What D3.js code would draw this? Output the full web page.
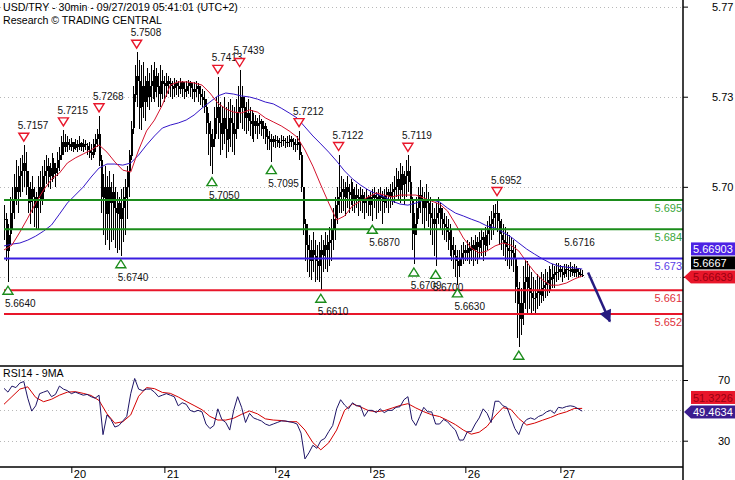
<!DOCTYPE html>
<html><head><meta charset="utf-8">
<script src="https://cdn.jsdelivr.net/npm/d3@7"></script>
<style>
body{margin:0;background:#fff}
svg{display:block}
text{font-family:"Liberation Sans",Arial,sans-serif}
</style>
</head><body>
<svg id="chart" width="735" height="480"></svg>
<script>
// ---------- DATA ----------
const titleText = "USD/TRY - 30min - 09/27/2019 05:41:01 (UTC+2)";
const subtitleText = "Research \u00A9 TRADING CENTRAL";
const rsiTitle = "RSI14 - 9MA";

// 30-min bars, values in pips (0.0001) above 5.6000
const PRICE_BASE = 5.6, PIP = 0.0001;
const barHigh = [
930,900,860,960,1000,1050,1100,1080,1110,1120,
1157,1130,1060,1020,1040,1000,980,1040,1060,1080,
1100,1120,1110,1090,1128,1110,1090,1130,1150,1190,
1215,1200,1190,1180,1185,1170,1180,1175,1190,1170,
1180,1175,1165,1170,1160,1180,1200,1220,1268,1120,
1050,1080,1040,1060,1020,1050,1000,980,960,990,
1000,1030,1080,1140,1250,1380,1460,1508,1480,1460,
1470,1420,1450,1430,1460,1440,1470,1450,1430,1460,
1440,1420,1430,1420,1410,1400,1410,1405,1400,1410,
1400,1395,1400,1405,1400,1390,1395,1400,1390,1380,
1370,1360,1330,1280,1250,1220,1300,1340,1413,1320,
1300,1340,1300,1320,1330,1310,1300,1330,1380,1439,
1380,1340,1320,1330,1300,1290,1280,1270,1260,1270,
1255,1250,1240,1220,1210,1200,1190,1195,1190,1185,
1195,1190,1185,1190,1195,1190,1185,1180,1190,1212,
1130,1000,880,860,820,800,830,800,780,790,
820,800,830,820,850,880,920,960,1000,1122,
1040,1030,1020,1040,1010,1030,1020,1000,1010,990,
1000,990,980,990,970,980,990,1000,980,990,
1000,985,990,1000,990,1010,1020,1040,1070,1060,
1090,1080,1060,1100,1119,1080,960,900,960,1000,
1026,1000,980,1010,980,960,940,920,940,960,
940,920,900,890,880,860,840,810,780,760,
760,780,790,780,800,790,810,800,820,810,
830,840,830,850,870,890,910,930,935,952,
900,880,860,850,830,820,810,800,780,700,
640,620,700,723,720,700,680,660,650,670,
660,680,670,690,680,700,690,710,700,712,
712,705,700,710,710,705,716,700,708,700,
695,690,685];
const barLow = [
800,720,640,780,840,880,930,900,960,980,
1000,970,900,860,900,850,840,840,900,930,
980,1010,1000,990,1020,1030,1000,1040,1060,1100,
1120,1130,1130,1140,1135,1130,1140,1130,1140,1135,
1130,1140,1120,1110,1100,1110,1130,1150,1080,900,
820,780,800,760,790,800,770,750,760,740,
790,820,880,960,1100,1200,1320,1300,1220,1214,
1260,1250,1300,1290,1320,1330,1320,1340,1300,1300,
1330,1320,1340,1350,1340,1330,1340,1345,1340,1350,
1340,1330,1340,1350,1340,1330,1320,1340,1320,1310,
1300,1280,1200,1120,1080,1050,1150,1200,1180,1120,
1140,1160,1110,1130,1150,1130,1120,1180,1220,1240,
1220,1210,1200,1210,1190,1180,1170,1200,1180,1200,
1190,1180,1160,1140,1140,1095,1150,1145,1150,1145,
1150,1155,1145,1150,1150,1150,1140,1130,1140,1100,
980,820,720,680,660,650,680,640,650,640,
610,680,690,680,700,720,760,800,860,900,
900,910,890,920,900,930,910,900,920,890,
910,900,880,900,890,890,870,920,880,900,
910,860,900,920,900,920,930,940,960,950,
940,960,930,960,980,900,760,709,820,880,
900,860,840,870,850,820,780,740,700,860,
840,820,800,790,760,740,720,690,660,630,
660,700,710,720,720,710,720,700,720,710,
730,740,720,740,760,780,800,820,840,830,
780,760,740,720,700,690,700,680,560,430,
395,440,480,540,520,540,520,530,520,540,
550,560,570,580,590,600,610,620,620,640,
650,660,640,655,660,650,660,665,660,660,
655,660,660];
const barClose = [
880,760,820,900,950,1000,980,1040,1060,1090,
1060,1000,940,990,960,920,960,1000,950,1040,
1060,1080,1040,1070,1090,1050,1070,1100,1120,1170,
1150,1170,1160,1150,1170,1145,1160,1150,1165,1150,
1160,1155,1140,1130,1120,1160,1180,1200,1100,960,
1000,900,1000,940,980,920,900,940,880,920,
960,1000,1060,1120,1220,1350,1420,1400,1300,1380,
1320,1400,1340,1380,1400,1360,1420,1380,1350,1400,
1390,1380,1400,1390,1380,1370,1390,1380,1370,1395,
1370,1360,1380,1390,1370,1360,1370,1380,1350,1340,
1330,1300,1240,1200,1150,1180,1260,1300,1240,1200,
1260,1220,1180,1260,1240,1200,1220,1280,1300,1340,
1300,1260,1280,1250,1240,1230,1250,1230,1240,1250,
1220,1230,1190,1180,1170,1180,1170,1175,1165,1170,
1175,1170,1165,1170,1180,1170,1160,1160,1170,1120,
1000,860,780,760,720,760,740,720,700,760,
740,780,760,790,800,840,880,930,960,980,
990,960,1000,980,970,990,950,970,960,950,
970,940,950,960,930,960,970,960,950,970,
960,940,970,980,960,980,990,1000,1030,990,
1050,1010,1040,1060,1020,950,820,860,920,970,
950,920,950,940,900,880,860,880,900,920,
880,860,850,830,800,780,760,740,720,700,
730,750,760,750,770,760,780,760,790,770,
800,810,780,820,840,860,880,900,900,870,
820,800,790,770,760,760,750,730,620,560,
500,560,640,660,620,600,580,580,600,610,
590,620,630,640,650,660,650,670,680,680,
690,680,670,690,685,680,690,675,690,680,
670,668,667];

// moving averages on price, one value every 4 bars
const MA_STEP = 4;
const maFast = [5.6762,5.6780,5.6829,5.6882,5.6939,5.6988,5.7029,5.7052,5.7090,5.7109,
5.7124,5.7139,5.7158,5.7131,5.7094,5.7063,5.7056,5.7139,5.7211,5.7252,
5.7309,5.7384,5.7396,5.7396,5.7392,5.7384,5.7354,5.7316,5.7294,5.7282,
5.7279,5.7290,5.7282,5.7260,5.7245,5.7230,5.7211,5.7188,5.7139,5.7078,
5.7007,5.6939,5.6875,5.6890,5.6928,5.6946,5.6962,5.6977,5.6969,5.6962,
5.6969,5.6969,5.6969,5.6958,5.6946,5.6935,5.6909,5.6860,5.6807,5.6769,
5.6750,5.6758,5.6777,5.6788,5.6780,5.6758,5.6716,5.6678,5.6648,5.6629,
5.6629,5.6637,5.6652,5.6664];
const maSlow = [5.6777,5.6784,5.6788,5.6799,5.6814,5.6833,5.6856,5.6897,5.6939,5.6969,
5.6999,5.7037,5.7071,5.7086,5.7086,5.7082,5.7090,5.7120,5.7158,5.7192,
5.7222,5.7233,5.7241,5.7252,5.7271,5.7297,5.7320,5.7343,5.7354,5.7350,
5.7343,5.7339,5.7331,5.7320,5.7313,5.7297,5.7279,5.7260,5.7226,5.7192,
5.7162,5.7131,5.7097,5.7060,5.7030,5.7007,5.6988,5.6973,5.6962,5.6946,
5.6935,5.6931,5.6939,5.6950,5.6950,5.6943,5.6920,5.6901,5.6890,5.6878,
5.6867,5.6852,5.6845,5.6829,5.6811,5.6788,5.6765,5.6746,5.6728,5.6712,
5.6701,5.6697,5.6694,5.6690];

// RSI14 (one value every 2 bars) and its 9MA (one value every 4 bars)
const RSI_STEP = 2, RSI_MA_STEP = 4;
const rsi = [64.5,62,66,65,68,69,58,49.5,53,61,
62,63,59,60.5,66,64,63,61,62,61,
60,60.5,59,58,60,34,47,44,39,40,
43,46,61,71,64,63,64,64,62,59,
60,61,60,59,53,55,54,50,49,50,
49,41,38,40,51,44,42,37,50,59,
52,42,48,45,44,43,41,40,41,42,
43,43,42.5,42,41,35,18,22,27,25,
30,31.5,36,40,51,57,53.5,51,55,53,
53,46,50,50,48.5,51,48.5,50,50,52,
52.4,57,59,44,40,46,52,49,49,41,
41,44,42.5,39.5,37,30.4,30.4,35.9,36,41,
45,51,48,42,56,56,53,52,45,38,
34,41,44,45,44,46,47,49,50,48,
52,51.5,52.5,53,52.5,51,49.5];
const rsiMA = [54,59,64,65.5,58.5,55.7,57.3,60,62,62.3,
61.2,59.8,56.5,47.8,41.5,42.5,47,59.3,65,64.3,
61.8,61.2,58.8,55.9,53.2,50.4,46,43.6,43.6,44.8,
47.4,49.6,47.7,44.4,43.6,43.3,42.5,42.5,37,28.7,
24,28.6,37,50,54.3,52.3,49.9,49.1,49.8,51.5,
53.2,54.4,51.6,49.1,47.1,45.9,43.4,40.6,37,34.3,
35.6,39.5,46.3,51.8,50.6,44.6,40.3,41.6,43.5,45.3,
47.5,49,51.2,51.3];

// axes
const dayLabels = ["20","21","24","25","26","27"];
const dayBarIndex = [34,81,137,185,233,281];
const priceGrid = [5.768,5.734,5.700,5.666];
const priceGridLabels = ["5.77","5.73","5.70",""];
const rsiGrid = [70,50,30];
const rsiGridLabels = ["70","","30"];

// support / resistance levels
const levelValues = [5.695,5.684,5.673,5.661,5.652];
const levelLabels = ["5.695","5.684","5.673","5.661","5.652"];
const levelKinds = ["res","res","pivot","sup","sup"];

// swing highs / lows (bar index, value)
const swingHighIdx = [10,30,48,67,108,119,149,169,204,249,286];
const swingHighVal = [5.7157,5.7215,5.7268,5.7508,5.7413,5.7439,5.7212,5.7122,5.7119,5.6952,5.6716];
const swingHighMarker = [1,1,1,1,1,1,1,1,1,1,0];
const swingLowIdx = [2,59,105,135,160,186,207,218,229,260];
const swingLowVal = [5.6640,5.6740,5.7050,5.7095,5.6610,5.6870,5.6709,5.6700,5.6630,5.6395];
const swingLowLabelShown = [1,1,1,1,1,1,1,1,1,0];

// forecast arrow (bar index, price)
const arrowFrom = [295, 5.6677];
const arrowTo = [306, 5.6492];

// last-value tags
const priceTagValues = [5.66639, 5.6667, 5.66903];
const priceTagLabels = ["5.66639","5.6667","5.66903"];
const rsiTagValues = [49.4634, 51.3226];
const rsiTagLabels = ["49.4634","51.3226"];

// ---------- STYLE ----------
const C = {
  green:"#1b8c1b", greenText:"#3aa63a", blue:"#3a1ee0", blueText:"#5a3ee6",
  red:"#e8162a", redText:"#e0303c", maFast:"#d4142e", maSlow:"#3416c8",
  rsi:"#1e1466", rsiMA:"#d40000", grid:"#b8b8b8", arrow:"#261a80"
};
const levelColor = {res:C.green, pivot:C.blue, sup:C.red};
const levelTextColor = {res:C.greenText, pivot:C.blueText, sup:C.redText};

const W = 735, H = 480, AX = 683, MAIN_B = 366, RSI_B = 467;

const svg = d3.select("#chart");
const defs = svg.append("defs");
defs.append("clipPath").attr("id","clipMain").append("rect").attr("x",0).attr("y",0).attr("width",AX).attr("height",MAIN_B);
defs.append("clipPath").attr("id","clipRsi").append("rect").attr("x",0).attr("y",MAIN_B).attr("width",AX).attr("height",RSI_B-MAIN_B);
defs.append("marker").attr("id","ah").attr("viewBox","0 0 10 10").attr("refX",9).attr("refY",5)
  .attr("markerWidth",5.5).attr("markerHeight",5).attr("markerUnits","strokeWidth").attr("orient","auto")
  .append("path").attr("d","M0,0L10,5L0,10Z").attr("fill",C.arrow);

// scales
const x = d3.scaleLinear().domain([0,300]).range([4, 4+1.98*300]);
const y = d3.scaleLinear().domain([5.6324,5.7705]).range([MAIN_B,0]);
const yR = d3.scaleLinear().domain([30,70]).range([440.7,380]);
const pv = p => PRICE_BASE + p*PIP;

const bars = barClose.map((c,i)=>({i, h:pv(barHigh[i]), l:pv(barLow[i]), c:pv(c), o:pv(i? barClose[i-1]: barClose[0])}));

// ---------- MAIN PANEL ----------
const main = svg.append("g").attr("clip-path","url(#clipMain)");
main.selectAll("line.grid").data(priceGrid).join("line").attr("class","grid")
  .attr("x1",0).attr("x2",AX).attr("y1",d=>Math.round(y(d))+0.5).attr("y2",d=>Math.round(y(d))+0.5)
  .attr("stroke",C.grid).attr("stroke-dasharray","1,3");

const bg = main.append("g").attr("shape-rendering","crispEdges");
bg.selectAll("line").data(bars).join("line")
  .attr("x1",d=>Math.round(x(d.i))+0.5).attr("x2",d=>Math.round(x(d.i))+0.5)
  .attr("y1",d=>Math.round(y(d.h))).attr("y2",d=>Math.round(y(d.l)))
  .attr("stroke","#000").attr("stroke-width",1);
bg.selectAll("rect").data(bars).join("rect")
  .attr("x",d=>Math.round(x(d.i))-0.5).attr("width",2)
  .attr("y",d=>Math.round(y(Math.max(d.o,d.c)))).attr("height",d=>Math.max(1,Math.round(Math.abs(y(d.o)-y(d.c)))))
  .attr("fill","#000");

const maLine = step => d3.line().x((d,k)=>x(k*step)).y(d=>y(d));
main.append("path").attr("d",maLine(MA_STEP)(maSlow)).attr("fill","none").attr("stroke",C.maSlow).attr("stroke-width",1);
main.append("path").attr("d",maLine(MA_STEP)(maFast)).attr("fill","none").attr("stroke",C.maFast).attr("stroke-width",1);

// levels
levelValues.forEach((v,k)=>{
  main.append("line").attr("x1",4).attr("x2",AX).attr("y1",y(v)).attr("y2",y(v))
    .attr("stroke",levelColor[levelKinds[k]]).attr("stroke-width",2);
  main.append("text").attr("x",AX-1).attr("y",y(v)+11.5).attr("text-anchor","end")
    .attr("font-size",11).attr("fill",levelTextColor[levelKinds[k]]).text(levelLabels[k]);
});

// swing highs
swingHighIdx.forEach((bi,k)=>{
  const cx = x(bi), hy = y(swingHighVal[k]);
  if (swingHighMarker[k]) main.append("path").attr("d",`M${cx-5},${hy-12}L${cx+5},${hy-12}L${cx},${hy-4}Z`)
    .attr("fill","#fff").attr("stroke",C.red).attr("stroke-width",1.4);
  main.append("text").attr("x",cx-6).attr("y",hy-16).attr("font-size",10).attr("fill","#111")
    .text(swingHighVal[k].toFixed(4));
});
// swing lows
swingLowIdx.forEach((bi,k)=>{
  const cx = x(bi), ly = y(swingLowVal[k]);
  main.append("path").attr("d",`M${cx-5},${ly+12}L${cx+5},${ly+12}L${cx},${ly+4}Z`)
    .attr("fill","#fff").attr("stroke",C.green).attr("stroke-width",1.4);
  if (swingLowLabelShown[k]) main.append("text").attr("x",cx-3).attr("y",ly+25).attr("font-size",10).attr("fill","#111")
    .text(swingLowVal[k].toFixed(4));
});

// forecast arrow
main.append("line").attr("x1",x(arrowFrom[0])).attr("y1",y(arrowFrom[1]))
  .attr("x2",x(arrowTo[0])).attr("y2",y(arrowTo[1]))
  .attr("stroke",C.arrow).attr("stroke-width",2.5).attr("marker-end","url(#ah)");

// titles
svg.append("text").attr("x",3).attr("y",11).attr("font-size",10.6).attr("fill","#000").text(titleText);
svg.append("text").attr("x",3).attr("y",24).attr("font-size",10.6).attr("fill","#000").text(subtitleText);

// ---------- RSI PANEL ----------
const rp = svg.append("g").attr("clip-path","url(#clipRsi)");
rp.selectAll("line.grid").data(rsiGrid).join("line").attr("class","grid")
  .attr("x1",0).attr("x2",AX).attr("y1",d=>Math.round(yR(d))+0.5).attr("y2",d=>Math.round(yR(d))+0.5)
  .attr("stroke",C.grid).attr("stroke-dasharray","1,3");
rp.append("path").attr("d",d3.line().x((d,k)=>x(k*RSI_MA_STEP)).y(d=>yR(d))(rsiMA))
  .attr("fill","none").attr("stroke",C.rsiMA).attr("stroke-width",1);
rp.append("path").attr("d",d3.line().x((d,k)=>x(k*RSI_STEP)).y(d=>yR(d))(rsi))
  .attr("fill","none").attr("stroke",C.rsi).attr("stroke-width",1);
svg.append("text").attr("x",3).attr("y",377).attr("font-size",10.6).attr("fill","#000").text(rsiTitle);

// panel frame lines
svg.append("line").attr("x1",0).attr("x2",AX).attr("y1",MAIN_B).attr("y2",MAIN_B).attr("stroke","#000").attr("stroke-width",1.5);
svg.append("line").attr("x1",0).attr("x2",AX).attr("y1",RSI_B).attr("y2",RSI_B).attr("stroke","#000").attr("stroke-width",1.5);
svg.append("line").attr("x1",AX).attr("x2",AX).attr("y1",0).attr("y2",H).attr("stroke","#000").attr("stroke-width",1.5);

// right axes
const pAxis = d3.axisRight(y).tickValues(priceGrid).tickSize(5).tickPadding(24)
  .tickFormat((d,k)=>priceGridLabels[k]);
const gpa = svg.append("g").attr("transform",`translate(${AX},0)`).call(pAxis);
const rAxis = d3.axisRight(yR).tickValues(rsiGrid).tickSize(5).tickPadding(30)
  .tickFormat((d,k)=>rsiGridLabels[k]);
const gra = svg.append("g").attr("transform",`translate(${AX},0)`).call(rAxis);
[gpa,gra].forEach(g=>{
  g.select(".domain").remove();
  g.selectAll("text").attr("font-size",11).attr("font-family","Liberation Sans, Arial, sans-serif").attr("fill","#000");
  g.selectAll("line").attr("stroke","#000");
});
gra.selectAll(".tick").filter((d,k)=>!rsiGridLabels[k]).select("line").remove();

// date axis
const dAxis = d3.axisBottom(x).tickValues(dayBarIndex).tickSize(6).tickFormat((d,k)=>dayLabels[k]);
const gda = svg.append("g").attr("transform",`translate(0,${RSI_B})`).call(dAxis);
gda.select(".domain").remove();
gda.selectAll("line").attr("stroke","#000");
gda.selectAll("text").attr("text-anchor","start").attr("x",2).attr("y",0).attr("dy",11)
  .attr("font-size",11).attr("font-family","Liberation Sans, Arial, sans-serif").attr("fill","#000");

// ---------- TAGS ----------
function tag(cy, label, bg, fg, pointer){
  const g = svg.append("g");
  if (pointer) g.append("path").attr("d",`M${AX+1},${cy}L${AX+8},${cy-6.5}L${AX+8},${cy+6.5}Z`).attr("fill",bg);
  g.append("rect").attr("x",AX+8).attr("y",cy-6.5).attr("width",W-AX).attr("height",13).attr("fill",bg);
  g.append("text").attr("x",AX+10).attr("y",cy+4.2).attr("font-size",11).attr("fill",fg).text(label);
}
const tagStyles = [[C.red,"#9a0010",true],["#000","#fff",false],["#4c22e4","#fff",false]];
const baseY = y(priceTagValues[0])+1;
priceTagValues.forEach((v,k)=>tag(baseY-14*k, priceTagLabels[k], tagStyles[k][0], tagStyles[k][1], tagStyles[k][2]));
const rsiTagStyles = [["#3b1d8f","#fff",true],[C.red,"#9a0010",false]];
const rBase = yR(rsiTagValues[0])+0.8;
rsiTagValues.forEach((v,k)=>tag(rBase-14.5*k, rsiTagLabels[k], rsiTagStyles[k][0], rsiTagStyles[k][1], rsiTagStyles[k][2]));
</script>
</body></html>
